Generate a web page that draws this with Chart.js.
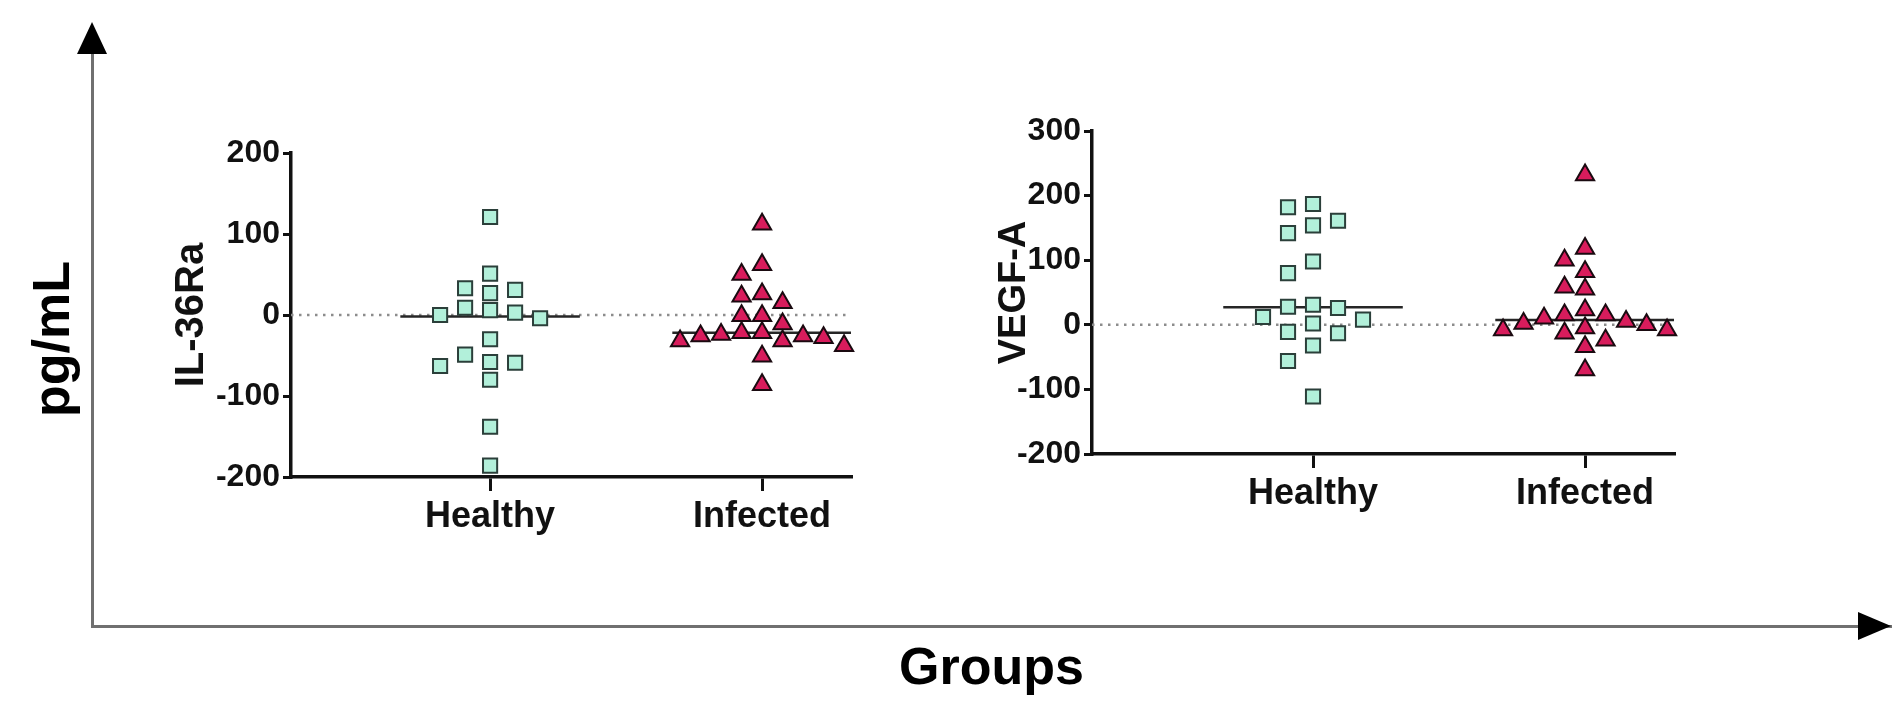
<!DOCTYPE html>
<html>
<head>
<meta charset="utf-8">
<script src="https://cdn.jsdelivr.net/npm/chart.js@4/dist/chart.umd.min.js"></script>
<style>
  body { margin: 0; background: #fff; }
  #wrap { position: relative; width: 1902px; height: 715px; }
  canvas { position: absolute; }
</style>
</head>
<body>
<div id="wrap">
  <canvas id="frame" width="1902" height="715" style="left:0;top:0"></canvas>
  <canvas id="il36" width="820" height="430" style="left:140px;top:120px"></canvas>
  <canvas id="vegf" width="860" height="460" style="left:960px;top:90px"></canvas>
</div>
<script>
// values (pg/mL)
const groups = ["Healthy", "Infected"];
const il36Healthy = [121, 51, 33, 31, 27, 9, 6, 3, 0, -4, -30, -49, -58, -59, -63, -80, -138, -186];
const il36Infected = [112, 62, 50, 26, 23, 15, -1, -1, -11, -22, -22, -24, -26, -26, -28, -32, -32, -38, -51, -86];
const vegfHealthy = [187, 182, 161, 154, 142, 98, 80, 31, 28, 26, 12, 8, 2, -11, -13, -32, -56, -111];
const vegfInfected = [232, 118, 100, 82, 58, 55, 23, 15, 15, 10, 5, 2, 0, -5, -8, -8, -13, -24, -34, -70];
const il36Ticks = [-200, -100, 0, 100, 200];
const vegfTicks = [-200, -100, 0, 100, 200, 300];

const FONT = "'Liberation Sans', Arial, sans-serif";
const INK = "#111";

function median(arr) {
  const s = [...arr].sort((a, b) => a - b);
  const m = Math.floor(s.length / 2);
  return s.length % 2 ? s[m] : (s[m - 1] + s[m]) / 2;
}

// simple beeswarm: highest value first, take the nearest free column slot
function swarm(chart, values, center, slotPx, markerPx) {
  const xs = chart.scales.x, ys = chart.scales.y;
  const unitX = xs.getPixelForValue(1) - xs.getPixelForValue(0);
  const placed = [];
  const pts = [];
  const order = values.map((v, i) => i).sort((a, b) => values[b] - values[a]);
  order.forEach(i => {
    const py = ys.getPixelForValue(values[i]);
    for (let n = 0; n < 40; n++) {
      const k = n === 0 ? 0 : (n % 2 ? -(n + 1) / 2 : n / 2);
      const hit = placed.some(p => p.k === k && Math.abs(p.py - py) < markerPx);
      if (!hit) {
        placed.push({ k, py });
        pts.push({ x: center + k * slotPx / unitX, y: values[i] });
        break;
      }
    }
  });
  return pts;
}

// outer frame with arrows
const arrowHeads = {
  id: "arrowHeads",
  afterDraw(chart) {
    const { ctx, chartArea: { left, top, right, bottom } } = chart;
    ctx.save();
    ctx.fillStyle = "#000";
    ctx.beginPath();
    ctx.moveTo(left, top - 30);
    ctx.lineTo(left - 15, top + 2);
    ctx.lineTo(left + 15, top + 2);
    ctx.closePath();
    ctx.fill();
    ctx.beginPath();
    ctx.moveTo(right, bottom);
    ctx.lineTo(right - 33, bottom - 14);
    ctx.lineTo(right - 33, bottom + 14);
    ctx.closePath();
    ctx.fill();
    ctx.restore();
  }
};

new Chart(document.getElementById("frame"), {
  type: "scatter",
  data: { datasets: [] },
  options: {
    responsive: false,
    animation: false,
    layout: { padding: { left: 23, top: 52, right: 11, bottom: 14 } },
    plugins: { legend: { display: false }, tooltip: { enabled: false } },
    scales: {
      x: {
        min: 0, max: 1,
        ticks: { display: false },
        grid: { display: false },
        border: { color: "#707070", width: 3 },
        title: { display: true, text: "Groups", color: "#000", padding: 0,
                 font: { family: FONT, size: 52, weight: "bold" } },
        afterFit(s) { s.height = 75; }
      },
      y: {
        min: 0, max: 1,
        ticks: { display: false },
        grid: { display: false },
        border: { color: "#707070", width: 3 },
        title: { display: true, text: "pg/mL", color: "#000", padding: 0,
                 font: { family: FONT, size: 52, weight: "bold" } },
        afterFit(s) { s.width = 69; }
      }
    }
  },
  plugins: [arrowHeads]
});

function dotPlot(id, title, titleSize, healthy, infected, ticks, xRange, pad, yWidth, xHeight) {
  const medH = median(healthy), medI = median(infected);
  const chart = new Chart(document.getElementById(id), {
    type: "scatter",
    data: {
      datasets: [
        {
          label: groups[0], data: [], order: 0, clip: false,
          pointStyle: "rect", pointRadius: 10, pointHoverRadius: 10,
          backgroundColor: "#b2f0da", borderColor: "#2b3f3a", borderWidth: 2
        },
        {
          label: groups[1], data: [], order: 0, clip: false,
          pointStyle: "triangle", pointRadius: 10.5, pointHoverRadius: 10.5,
          backgroundColor: "#d81c5c", borderColor: "#1a0a10", borderWidth: 2
        },
        {
          data: [{ x: -0.33, y: medH }, { x: 0.33, y: medH }], order: 1,
          showLine: true, pointRadius: 0, borderColor: "#262626", borderWidth: 2.5
        },
        {
          data: [{ x: 0.67, y: medI }, { x: 1.33, y: medI }], order: 1,
          showLine: true, pointRadius: 0, borderColor: "#262626", borderWidth: 2.5
        },
        {
          data: [{ x: xRange[0], y: 0 }, { x: xRange[1], y: 0 }], order: 2,
          showLine: true, pointRadius: 0, borderColor: "#8c8c8c",
          borderWidth: 2.5, borderDash: [2.5, 5.5]
        }
      ]
    },
    options: {
      responsive: false,
      animation: false,
      layout: { padding: pad },
      plugins: { legend: { display: false }, tooltip: { enabled: false } },
      scales: {
        x: {
          min: xRange[0], max: xRange[1],
          afterBuildTicks(s) { s.ticks = groups.map((g, i) => ({ value: i })); },
          ticks: {
            color: INK, padding: 4,
            font: { family: FONT, size: 36, weight: "bold" },
            callback: v => groups[v]
          },
          grid: { drawOnChartArea: false, color: INK, lineWidth: 3, tickLength: 14 },
          border: { color: INK, width: 3.5 },
          afterFit(s) { s.height = xHeight; }
        },
        y: {
          min: ticks[0], max: ticks[ticks.length - 1],
          afterBuildTicks(s) { s.ticks = ticks.map(v => ({ value: v })); },
          ticks: {
            color: INK, padding: 3,
            font: { family: FONT, size: 32, weight: "bold" }
          },
          grid: { drawOnChartArea: false, color: INK, lineWidth: 3, tickLength: 8 },
          border: { color: INK, width: 3.5 },
          title: { display: true, text: title, color: INK, padding: 0,
                   font: { family: FONT, size: titleSize, weight: "bold" } },
          afterFit(s) { s.width = yWidth; }
        }
      }
    }
  });
  chart.data.datasets[0].data = swarm(chart, healthy, 0, 25, 17);
  chart.data.datasets[1].data = swarm(chart, infected, 1, 20.5, 17);
  chart.update("none");
  return chart;
}

dotPlot("il36", "IL-36Ra", 40, il36Healthy, il36Infected, il36Ticks, [-0.732, 1.327],
        { left: 28, top: 33, right: 109, bottom: 0 }, 123, 73);
dotPlot("vegf", "VEGF-A", 38, vegfHealthy, vegfInfected, vegfTicks, [-0.8125, 1.327],
        { left: 32, top: 41, right: 146, bottom: 0 }, 100, 96);
</script>
</body>
</html>
